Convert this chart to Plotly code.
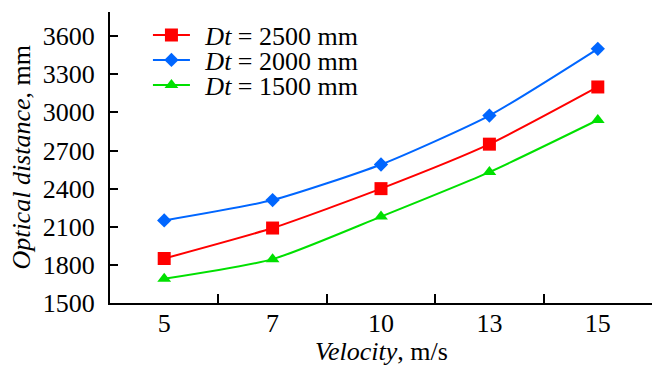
import plotly.graph_objects as go

velocity = ["5", "7", "10", "13", "15"]
dt2500 = [1850, 2090, 2400, 2750, 3200]
dt2000 = [2150, 2310, 2590, 2975, 3500]
dt1500 = [1690, 1845, 2180, 2530, 2940]
yticks = [1500, 1800, 2100, 2400, 2700, 3000, 3300, 3600]

FONT = "Liberation Serif, Times New Roman, serif"
FS = 26
PAD = "\u2009\u2009"

fig = go.Figure()
series = [
    (PAD + "<i>Dt</i> = 2500 mm", dt2500, "#ff0000", "square", 13, "legend"),
    (PAD + "<i>Dt</i> = 2000 mm", dt2000, "#0066ff", "diamond", 11, "legend2"),
    (PAD + "<i>Dt</i> = 1500 mm", dt1500, "#00e000", "triangle-up", 12, "legend3"),
]
for name, ys, col, sym, sz, lg in series:
    fig.add_trace(go.Scatter(
        x=velocity, y=ys, name=name, mode="lines+markers", legend=lg,
        line=dict(color=col, width=2, shape="spline", smoothing=0.6),
        marker=dict(color=col, symbol=sym, size=sz),
    ))

def leg(yc):
    return dict(x=0.07, y=yc, xanchor="left", yanchor="middle",
                bgcolor="rgba(0,0,0,0)", font=dict(size=FS, family=FONT),
                itemwidth=37)

fig.update_layout(
    width=653, height=370,
    margin=dict(l=110, r=1, t=12, b=67, autoexpand=False),
    plot_bgcolor="white", paper_bgcolor="white",
    font=dict(family=FONT, size=FS, color="black"),
    showlegend=True,
    legend=leg(0.921), legend2=leg(0.835), legend3=leg(0.749),
    xaxis=dict(
        type="category", range=[-0.5, 4.5], automargin=False,
        showline=True, linecolor="black", linewidth=2,
        ticks="inside", tickson="boundaries", ticklen=9, tickwidth=2, tickcolor="black",
        showgrid=False, zeroline=False, ticklabelstandoff=-4,
        tickfont=dict(size=FS, family=FONT),
    ),
    yaxis=dict(
        range=[1500, 3790], tickvals=yticks, automargin=False,
        showline=True, linecolor="black", linewidth=2,
        ticks="inside", ticklen=8, tickwidth=2, tickcolor="black",
        showgrid=False, zeroline=False, ticklabelstandoff=8,
        tickfont=dict(size=FS, family=FONT),
    ),
    annotations=[
        dict(text="<i>Velocity</i>, m/s", xref="paper", yref="paper",
             x=0.5, y=-0.168, xanchor="center", yanchor="middle",
             showarrow=False, font=dict(size=FS, family=FONT)),
        dict(text="<i>Optical distance</i>, mm", xref="paper", yref="paper",
             x=-0.164, y=0.5, xanchor="center", yanchor="middle", textangle=-90,
             showarrow=False, font=dict(size=FS, family=FONT)),
    ],
)

fig.write_html("out.html", config={"displayModeBar": False},
               post_script="document.body.style.margin='0';document.body.style.padding='0';")
